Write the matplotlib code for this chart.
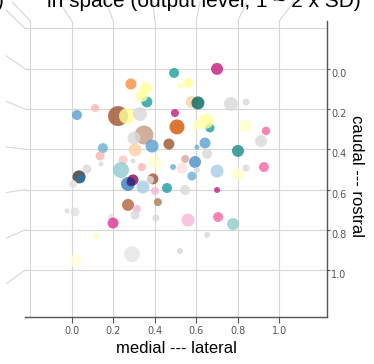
import matplotlib.pyplot as plt
import numpy as np

# neuron positions (normalised), output level and cell-type colour
pos_x = [0.362, 0.338, 0.358, 0.285, 0.493, 0.025, 0.112, 0.223, 0.266, 0.329,
         0.497, 0.507, 0.348, 0.300, 0.305, 0.387, 0.468, 0.150, 0.136, 0.141,
         0.073, 0.035, 0.044, 0.006, 0.247, 0.295, 0.338, 0.401, 0.488, 0.237,
         0.271, 0.295, 0.285, 0.343, 0.391, 0.377, 0.459, 0.401, 0.271, 0.314,
         0.305, 0.415, 0.406, -0.023, 0.015, 0.189, 0.199, 0.117, 0.290, 0.020,
         0.521, 0.700, 0.560, 0.521, 0.579, 0.608, 0.767, 0.840, 0.666, 0.647,
         0.608, 0.835, 0.936, 0.912, 0.642, 0.603, 0.652, 0.801, 0.546, 0.594,
         0.531, 0.603, 0.579, 0.700, 0.801, 0.840, 0.926, 0.546, 0.700, 0.560,
         0.705, 0.777, 0.652]
pos_y = [0.165, 0.135, 0.096, 0.076, 0.021, 0.230, 0.195, 0.235, 0.235, 0.225,
         0.220, 0.289, 0.329, 0.344, 0.403, 0.384, 0.374, 0.394, 0.433, 0.473,
         0.498, 0.537, 0.547, 0.572, 0.453, 0.458, 0.488, 0.463, 0.488, 0.503,
         0.572, 0.552, 0.562, 0.587, 0.547, 0.552, 0.592, 0.607, 0.676, 0.696,
         0.726, 0.662, 0.741, 0.706, 0.711, 0.736, 0.766, 0.830, 0.920, 0.954,
         0.905, 0.001, 0.071, 0.086, 0.165, 0.170, 0.175, 0.165, 0.294, 0.260,
         0.279, 0.284, 0.309, 0.359, 0.369, 0.389, 0.423, 0.408, 0.448, 0.463,
         0.493, 0.503, 0.533, 0.508, 0.523, 0.493, 0.488, 0.602, 0.602, 0.751,
         0.736, 0.771, 0.825]
level = [1.1, 1.2, 1.2, 1.1, 1.0, 1.0, 0.8, 2.0, 1.6, 1.4,
         0.8, 1.5, 1.9, 1.3, 1.3, 1.3, 1.1, 1.0, 0.9, 0.5,
         0.9, 1.3, 0.8, 0.8, 0.9, 0.5, 0.8, 1.3, 0.6, 1.6,
         1.4, 1.1, 0.9, 1.3, 1.1, 0.8, 1.0, 0.8, 1.2, 0.8,
         0.9, 0.8, 0.7, 0.5, 0.9, 0.6, 1.1, 0.7, 1.6, 1.3,
         0.6, 1.2, 1.0, 0.6, 1.2, 1.3, 1.4, 0.7, 0.9, 1.5,
         1.0, 1.3, 0.85, 1.2, 1.1, 0.5, 1.0, 1.2, 0.8, 1.2,
         1.1, 0.6, 0.9, 1.3, 1.3, 0.7, 1.0, 1.0, 0.6, 1.3,
         1.0, 1.2, 0.6]
cell_color = ['#1b9e9e', '#ffff99', '#ffff99', '#fd8d3c', '#1b9e9e', '#5a9fd0', '#fbb4ae', '#a0522d', '#ffff99', '#d9d9d9',
              '#c51b7d', '#d45500', '#c49a85', '#d9d9d9', '#fdd0a2', '#5a9fd0', '#a0522d', '#6baed6', '#fbb4ae', '#d9d9d9',
              '#d9d9d9', '#333333', '#1f78b4', '#e0e0e0', '#fcc5c0', '#d9d9d9', '#fbb4ae', '#ffffcc', '#6baed6', '#8fcccc',
              '#3a7fc0', '#8b0a50', '#2c2c8c', '#a6cee3', '#a0522d', '#e0e0e0', '#1b9e9e', '#fbb4d9', '#b0643a', '#f1b6da',
              '#d9d9d9', '#a67c52', '#d9d9d9', '#d9d9d9', '#e0e0e0', '#e0e0e0', '#dd3497', '#ffffcc', '#e5e5e5', '#ffffdd',
              '#d9d9d9', '#c51b7d', '#ffff99', '#ffffb3', '#fdd0a2', '#00665e', '#d9d9d9', '#d9d9d9', '#1b9e9e', '#ffff99',
              '#ffffb3', '#ffffcc', '#f768a1', '#d9d9d9', '#5a9fd0', '#6baed6', '#d9d9d9', '#1b8a8a', '#d7a79a', '#4a90c8',
              '#fde0dd', '#d9d9d9', '#6baed6', '#a6cee3', '#ffffcc', '#d9d9d9', '#f768a1', '#d9d9d9', '#c51b7d', '#fbb4d9',
              '#f768a1', '#8fcccc', '#d9d9d9']

grid_vals = [-0.2, 0.0, 0.2, 0.4, 0.6, 0.8, 1.0]
tick_vals = [0.0, 0.2, 0.4, 0.6, 0.8, 1.0]

fig = plt.figure(figsize=(3.74, 3.64), dpi=100)
ax = fig.add_axes([25 / 374, 47 / 364, 302 / 374, 296 / 364])
ax.set_xlim(-0.2255, 1.23)
ax.set_ylim(1.2323, -0.2367)

grid_kw = dict(color='#d6d6d6', lw=0.8, zorder=0)
for g in grid_vals:
    ax.axvline(g, **grid_kw)
    ax.axhline(g, **grid_kw)

# side walls seen in perspective (vanishing point near the centre)
vp = np.array([0.4735, 0.5068])
t = 0.13
for g in grid_vals:
    xa = ax.transLimits.transform((g, 0))[0]
    ya = ax.transLimits.transform((0, g))[1]
    for p in (np.array([xa, 1.0]), np.array([0.0, ya])):
        q = p + t * (p - vp)
        ax.plot([p[0], q[0]], [p[1], q[1]], transform=ax.transAxes,
                clip_on=False, **grid_kw)

sizes = (np.array(level) * 7.2) ** 2
ax.scatter(pos_x, pos_y, s=sizes, c=cell_color, alpha=0.8,
           edgecolors='none', zorder=3)

for side in ('left', 'top'):
    ax.spines[side].set_visible(False)
for side in ('bottom', 'right'):
    ax.spines[side].set_color('#555555')
    ax.spines[side].set_linewidth(1.0)

ax.set_xticks(tick_vals)
ax.set_yticks(tick_vals)
ax.set_xticklabels([f'{v:.1f}' for v in tick_vals])
ax.set_yticklabels([f'{v:.1f}' for v in tick_vals])
ax.yaxis.tick_right()
ax.tick_params(axis='x', direction='out', length=4, pad=2.5, width=0.8,
               color='#555555', labelsize=7, labelcolor='#555555')
ax.tick_params(axis='y', direction='out', length=2.5, pad=0.5, width=0.8,
               color='#555555', labelsize=7, labelcolor='#555555')
for lab in ax.get_yticklabels():
    lab.set_verticalalignment('top')

lab_font = ['Liberation Sans', 'DejaVu Sans']
fig.text(176 / 374, 11 / 364, 'medial --- lateral', ha='center',
         va='baseline', fontsize=12, family=lab_font)
fig.text(357 / 374, 188 / 364, 'caudal --- rostral', ha='center',
         va='center', rotation=270, fontsize=12, family=lab_font)
fig.text(204 / 374, 1 - 7 / 364, 'in space (output level, 1 ~ 2 x SD)',
         ha='center', va='baseline', fontsize=15, family=lab_font)
fig.text(4 / 374, 1 - 7 / 364, ')', ha='right', va='baseline',
         fontsize=15, family=lab_font)

fig.savefig('out.png', dpi=100)
